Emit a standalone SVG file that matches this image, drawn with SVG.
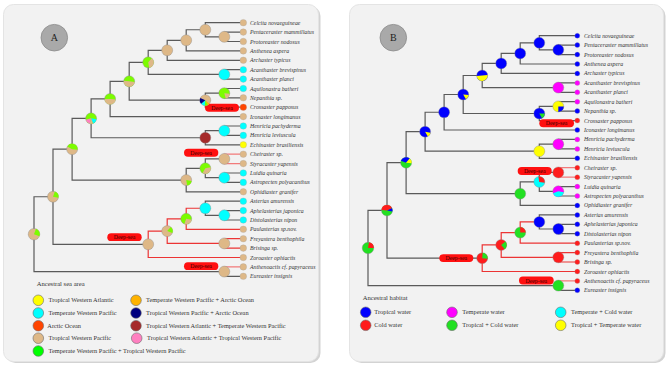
<svg xmlns="http://www.w3.org/2000/svg" width="669" height="368" viewBox="0 0 669 368">
<style>
.shadow{fill:#d3d3d3}
.panel{fill:#f2f2f2;stroke:#e4e4e4;stroke-width:1}
.br{fill:none;stroke:#5a5a5a;stroke-width:1.2}
.rd{fill:none;stroke:#ec3434;stroke-width:1.2}
.rl{fill:none;stroke:#f27a7a;stroke-width:1.2}
.tl{font-family:"Liberation Serif",serif;font-style:italic;font-size:5.8px;fill:#333}
.lt{font-family:"Liberation Serif",serif;font-size:6.35px;fill:#333}
.hd{font-family:"Liberation Serif",serif;font-size:6.6px;fill:#333}
.ds rect{fill:#ff1010}
.ds text{font-family:"Liberation Serif",serif;font-size:5.8px;fill:#3a0000;text-anchor:middle}
.nd circle{stroke:#8c8c8c;stroke-width:0.4}
.tp circle{stroke:#a0a0a0;stroke-width:0.3}
.leg circle{stroke:#6a6a6a;stroke-width:0.6}
.badge circle{fill:#a9a9a9;stroke:#8a8a8a;stroke-width:0.8}
.badge text{font-family:"Liberation Serif",serif;font-size:10px;fill:#222;text-anchor:middle}
.tan{fill:#deb887}.gr{fill:#7cfc00}.cy{fill:#00ffff}.ye{fill:#ffff00}.oa{fill:#ff4500}
.or{fill:#ffb300}.nv{fill:#000080}.bn{fill:#a52a2a}.pk{fill:#ff80c0}.g0{fill:#00ff00}
.bl{fill:#0000ff}.re{fill:#ff1c1c}.mg{fill:#ff00ff}.gg{fill:#22e022}
</style>
<rect width="669" height="368" fill="#ffffff"/>
<!-- panels -->
<rect class="shadow" x="5.5" y="6" width="315" height="357" rx="10"/>
<rect class="panel" x="3.5" y="4.5" width="315" height="357" rx="10"/>
<rect class="shadow" x="351.5" y="6" width="314" height="357" rx="10"/>
<rect class="panel" x="349.5" y="4.5" width="314" height="357" rx="10"/>
<g class="badge" id="badge-a"><circle cx="54.3" cy="37.7" r="13.3"/><text x="54.3" y="41.3">A</text></g>
<g class="badge" id="badge-b"><circle cx="393.3" cy="37.7" r="13.3"/><text x="393.3" y="41.3">B</text></g>

<!-- connectors -->
<g id="connectors">
<g id="connectors-a">
<path class="br" d="M243.3,32.1H224.3V41.5H243.3"/>
<path class="br" d="M243.3,22.7H205.3V36.8H224.3"/>
<path class="br" d="M205.3,29.75H186.2V50.9H243.3"/>
<path class="br" d="M186.2,40.3H167.2V60.3H243.3"/>
<path class="br" d="M243.3,69.7H224.3V79.1H243.3"/>
<path class="br" d="M167.2,50.3H148.2V74.4H224.3"/>
<path class="br" d="M243.3,88.5H224.3V97.8H243.3"/>
<path class="br" d="M224.3,93.15H205.3V107.2H243.3"/>
<path class="br" d="M148.2,62.35H129.2V100.2H205.3"/>
<path class="br" d="M129.2,81.3H110.1V116.6H243.3"/>
<path class="br" d="M243.3,126H224.3V135.4H243.3"/>
<path class="br" d="M224.3,130.7H205.3V144.8H243.3"/>
<path class="br" d="M110.1,98.95H91.1V137.75H205.3"/>
<path class="rl" d="M243.3,154.2H224.3V163.6H243.3"/>
<path class="br" d="M243.3,173H224.3V182.4H243.3"/>
<path class="br" d="M224.3,158.9H205.3V177.7H224.3"/>
<path class="br" d="M205.3,168.3H186.2V191.8H243.3"/>
<path class="br" d="M91.1,118.35H72.1V180.05H186.2"/>
<path class="br" d="M243.3,210.6H224.3V220H243.3"/>
<path class="br" d="M243.3,201.2H205.3V215.3H224.3"/>
<path class="rd" d="M205.3,208.25H186.2V229.3H243.3"/>
<path class="rd" d="M243.3,238.7H224.3V248.1H243.3"/>
<path class="rd" d="M186.2,218.8H167.2V243.4H224.3"/>
<path class="rd" d="M167.2,231.1H148.2V257.5H243.3"/>
<path class="br" d="M72.1,149.2H53V244.3H148.2"/>
<path class="rl" d="M243.3,266.9H224.3V271.6"/>
<path class="br" d="M224.3,271.6V276.3H243.3"/>
<path class="br" d="M53,196.75H34V271.6H224.3"/>
</g>
<g id="connectors-b">
<path class="br" d="M577.3,45.1H558.3V54.6H577.3"/>
<path class="br" d="M577.3,35.7H539.3V49.85H558.3"/>
<path class="br" d="M539.3,42.8H520.2V64H577.3"/>
<path class="br" d="M520.2,53.4H501.2V73.4H577.3"/>
<path class="br" d="M577.3,82.9H558.3V92.3H577.3"/>
<path class="br" d="M501.2,63.4H482.2V87.6H558.3"/>
<path class="br" d="M577.3,101.7H558.3V111.1H577.3"/>
<path class="br" d="M558.3,106.4H539.3V120.6H577.3"/>
<path class="br" d="M482.2,75.5H463.2V113.5H539.3"/>
<path class="br" d="M463.2,94.5H444.1V130H577.3"/>
<path class="br" d="M577.3,139.4H558.3V148.9H577.3"/>
<path class="br" d="M558.3,144.15H539.3V158.3H577.3"/>
<path class="br" d="M444.1,112.25H425.1V151.2H539.3"/>
<path class="rl" d="M577.3,167.7H558.3V177.2H577.3"/>
<path class="br" d="M577.3,186.6H558.3V196H577.3"/>
<path class="br" d="M558.3,172.45H539.3V191.3H558.3"/>
<path class="br" d="M539.3,181.9H520.2V205.4H577.3"/>
<path class="br" d="M425.1,131.7H406.1V193.65H520.2"/>
<path class="br" d="M577.3,224.3H558.3V233.7H577.3"/>
<path class="br" d="M577.3,214.9H539.3V229H558.3"/>
<path class="rd" d="M539.3,221.95H520.2V243.2H577.3"/>
<path class="rd" d="M577.3,252.6H558.3V262H577.3"/>
<path class="rd" d="M520.2,232.6H501.2V257.3H558.3"/>
<path class="rd" d="M501.2,244.95H482.2V271.5H577.3"/>
<path class="br" d="M406.1,162.7H387V258.2H482.2"/>
<path class="rl" d="M577.3,280.9H558.3V285.6"/>
<path class="br" d="M558.3,285.6V290.3H577.3"/>
<path class="br" d="M387,210.45H368V285.6H558.3"/>
</g>
</g>

<!-- deep-sea labels -->
<g id="deep-sea-labels" class="ds">
<g><rect x="205" y="103.7" width="34" height="8" rx="4"/><text x="222" y="109.7">Deep-sea</text></g>
<g><rect x="184" y="148.7" width="34.3" height="8" rx="4"/><text x="201.1" y="154.7">Deep-sea</text></g>
<g><rect x="107.3" y="233.3" width="34.4" height="7.8" rx="3.9"/><text x="124.5" y="239.2">Deep-sea</text></g>
<g><rect x="184" y="262.3" width="34.3" height="7.8" rx="3.9"/><text x="201.1" y="268.2">Deep-sea</text></g>
<g><rect x="539.3" y="119.3" width="34.7" height="8" rx="4"/><text x="556.6" y="125.3">Deep-sea</text></g>
<g><rect x="517.7" y="167" width="34" height="8" rx="4"/><text x="534.7" y="173">Deep-sea</text></g>
<g><rect x="439.3" y="254.2" width="34" height="7.8" rx="3.9"/><text x="456.3" y="260.1">Deep-sea</text></g>
<g><rect x="519" y="276.6" width="34.7" height="7.8" rx="3.9"/><text x="536.3" y="282.5">Deep-sea</text></g>
</g>

<!-- panel A internal nodes -->
<g id="a-nodes" class="nd">
<g id="a-n1" transform="translate(224.3,36.8)"><circle r="5.5" class="tan"/></g>
<g id="a-n2" transform="translate(205.3,29.75)"><circle r="5.5" class="tan"/></g>
<g id="a-n3" transform="translate(186.2,40.3)"><circle r="5.5" class="tan"/></g>
<g id="a-n4" transform="translate(167.2,50.3)"><circle r="5.5" class="tan"/></g>
<g id="a-n5" transform="translate(224.3,74.4)"><circle r="5.5" class="cy"/></g>
<g id="a-n6" transform="translate(148.2,62.35)"><circle r="5.5" class="gr"/><path class="tan" d="M0,0L3.535,-4.213A5.5,5.5 0 0 1 0.955,5.416Z"/></g>
<g id="a-n7" transform="translate(224.3,93.15)"><circle r="5.5" class="gr"/><path class="tan" d="M0,0L5.479,0.479A5.5,5.5 0 0 1 1.424,5.312Z"/></g>
<g id="a-n8" transform="translate(205.3,100.2)"><circle r="5.5" class="tan"/><path class="or" d="M0,0L4.213,3.535A5.5,5.5 0 0 1 2.75,4.763Z"/><path class="gr" d="M0,0L2.75,4.763A5.5,5.5 0 0 1 -0.479,5.479Z"/><path class="cy" d="M0,0L-0.479,5.479A5.5,5.5 0 0 1 -4.213,3.535Z"/><path class="nv" d="M0,0L-4.213,3.535A5.5,5.5 0 0 1 -4.985,-2.324Z"/></g>
<g id="a-n9" transform="translate(129.2,81.3)"><circle r="5.5" class="gr"/><path class="tan" d="M0,0L5.47,0.575A5.5,5.5 0 0 1 -5.479,-0.479Z"/></g>
<g id="a-n10" transform="translate(110.1,98.95)"><circle r="5.5" class="gr"/><path class="tan" d="M0,0L5.479,0.479A5.5,5.5 0 0 1 -5.5,0Z"/></g>
<g id="a-n11" transform="translate(224.3,130.7)"><circle r="5.5" class="cy"/></g>
<g id="a-n12" transform="translate(205.3,137.75)"><circle r="5.5" class="bn"/></g>
<g id="a-n13" transform="translate(91.1,118.35)"><circle r="5.5" class="gr"/><path class="cy" d="M0,0L5.416,0.955A5.5,5.5 0 0 1 1.881,5.168Z"/><path class="tan" d="M0,0L1.881,5.168A5.5,5.5 0 0 1 -1.424,5.312Z"/><path class="pk" d="M0,0L-1.424,5.312A5.5,5.5 0 0 1 -5.312,1.424Z"/></g>
<g id="a-n14" transform="translate(224.3,158.9)"><circle r="5.5" class="tan"/></g>
<g id="a-n15" transform="translate(224.3,177.7)"><circle r="5.5" class="cy"/></g>
<g id="a-n16" transform="translate(205.3,168.3)"><circle r="5.5" class="gr"/><path class="tan" d="M0,0L5.416,-0.955A5.5,5.5 0 0 1 -2.75,4.763Z"/></g>
<g id="a-n17" transform="translate(186.2,180.05)"><circle r="5.5" class="tan"/><path class="gr" d="M0,0L5.416,0.955A5.5,5.5 0 0 1 0.955,5.416Z"/></g>
<g id="a-n18" transform="translate(72.1,149.2)"><circle r="5.5" class="tan"/><path class="gr" d="M0,0L-4.763,-2.75A5.5,5.5 0 0 1 5.479,0.479Z"/></g>
<g id="a-n19" transform="translate(224.3,215.3)"><circle r="5.5" class="cy"/></g>
<g id="a-n20" transform="translate(205.3,208.25)"><circle r="5.5" class="cy"/></g>
<g id="a-n21" transform="translate(186.2,218.8)"><circle r="5.5" class="gr"/><path class="tan" d="M0,0L5.416,0.955A5.5,5.5 0 0 1 -1.881,5.168Z"/></g>
<g id="a-n22" transform="translate(224.3,243.4)"><circle r="5.5" class="tan"/></g>
<g id="a-n23" transform="translate(167.2,231.1)"><circle r="5.5" class="tan"/><path class="gr" d="M0,0L3.535,-4.213A5.5,5.5 0 0 1 5.168,1.881Z"/></g>
<g id="a-n24" transform="translate(148.2,244.3)"><circle r="5.5" class="tan"/></g>
<g id="a-n25" transform="translate(53,196.75)"><circle r="5.5" class="tan"/><path class="gr" d="M0,0L1.881,-5.168A5.5,5.5 0 0 1 5.416,0.955Z"/></g>
<g id="a-n26" transform="translate(224.3,271.6)"><circle r="5.5" class="tan"/></g>
<g id="a-root" transform="translate(34,234.2)"><circle r="5.8" class="tan"/><path class="gr" d="M0,0L1.984,-5.45A5.8,5.8 0 0 1 5.45,1.984Z"/></g>
</g>

<!-- panel A tips -->
<g id="a-tips" class="tp">
<g id="a-t0"><circle cx="243.3" cy="22.7" r="3.3" class="tan"/><text class="tl" x="250" y="24.7">Celcita novaeguineae</text></g>
<g id="a-t1"><circle cx="243.3" cy="32.1" r="3.3" class="tan"/><text class="tl" x="250" y="34.1">Pentaceraster mammillatus</text></g>
<g id="a-t2"><circle cx="243.3" cy="41.5" r="3.3" class="tan"/><text class="tl" x="250" y="43.5">Protoreaster nodosus</text></g>
<g id="a-t3"><circle cx="243.3" cy="50.9" r="3.3" class="tan"/><text class="tl" x="250" y="52.9">Anthenea aspera</text></g>
<g id="a-t4"><circle cx="243.3" cy="60.3" r="3.3" class="tan"/><text class="tl" x="250" y="62.3">Archaster typicus</text></g>
<g id="a-t5"><circle cx="243.3" cy="69.7" r="3.3" class="cy"/><text class="tl" x="250" y="71.7">Acanthaster brevispinus</text></g>
<g id="a-t6"><circle cx="243.3" cy="79.1" r="3.3" class="cy"/><text class="tl" x="250" y="81.1">Acanthaster planci</text></g>
<g id="a-t7"><circle cx="243.3" cy="88.5" r="3.3" class="cy"/><text class="tl" x="250" y="90.5">Aquilonastra batheri</text></g>
<g id="a-t8"><circle cx="243.3" cy="97.8" r="3.3" class="tan"/><text class="tl" x="250" y="99.8">Nepanthia sp.</text></g>
<g id="a-t9"><circle cx="243.3" cy="107.2" r="3.3" class="oa"/><text class="tl" x="250" y="109.2">Crossaster papposus</text></g>
<g id="a-t10"><circle cx="243.3" cy="116.6" r="3.3" class="tan"/><text class="tl" x="250" y="118.6">Iconaster longimanus</text></g>
<g id="a-t11"><circle cx="243.3" cy="126" r="3.3" class="cy"/><text class="tl" x="250" y="128">Henricia pachyderma</text></g>
<g id="a-t12"><circle cx="243.3" cy="135.4" r="3.3" class="cy"/><text class="tl" x="250" y="137.4">Henricia leviuscula</text></g>
<g id="a-t13"><circle cx="243.3" cy="144.8" r="3.3" class="ye"/><text class="tl" x="250" y="146.8">Echinaster brasiliensis</text></g>
<g id="a-t14"><circle cx="243.3" cy="154.2" r="3.3" class="tan"/><text class="tl" x="250" y="156.2">Cheiraster sp.</text></g>
<g id="a-t15"><circle cx="243.3" cy="163.6" r="3.3" class="tan"/><text class="tl" x="250" y="165.6">Styracaster yapensis</text></g>
<g id="a-t16"><circle cx="243.3" cy="173" r="3.3" class="cy"/><text class="tl" x="250" y="175">Luidia quinaria</text></g>
<g id="a-t17"><circle cx="243.3" cy="182.4" r="3.3" class="cy"/><text class="tl" x="250" y="184.4">Astropecten polyacanthus</text></g>
<g id="a-t18"><circle cx="243.3" cy="191.8" r="3.3" class="tan"/><text class="tl" x="250" y="193.8">Ophidiaster granifer</text></g>
<g id="a-t19"><circle cx="243.3" cy="201.2" r="3.3" class="cy"/><text class="tl" x="250" y="203.2">Asterias amurensis</text></g>
<g id="a-t20"><circle cx="243.3" cy="210.6" r="3.3" class="cy"/><text class="tl" x="250" y="212.6">Aphelasterias japonica</text></g>
<g id="a-t21"><circle cx="243.3" cy="220" r="3.3" class="cy"/><text class="tl" x="250" y="222">Distolasterias nipon</text></g>
<g id="a-t22"><circle cx="243.3" cy="229.3" r="3.3" class="tan"/><text class="tl" x="250" y="231.3">Paulasterias sp.nov.</text></g>
<g id="a-t23"><circle cx="243.3" cy="238.7" r="3.3" class="tan"/><text class="tl" x="250" y="240.7">Freyastera benthophila</text></g>
<g id="a-t24"><circle cx="243.3" cy="248.1" r="3.3" class="tan"/><text class="tl" x="250" y="250.1">Brisinga sp.</text></g>
<g id="a-t25"><circle cx="243.3" cy="257.5" r="3.3" class="tan"/><text class="tl" x="250" y="259.5">Zoroaster ophiactis</text></g>
<g id="a-t26"><circle cx="243.3" cy="266.9" r="3.3" class="tan"/><text class="tl" x="250" y="268.9">Anthenoactis cf. papyraceus</text></g>
<g id="a-t27"><circle cx="243.3" cy="276.3" r="3.3" class="tan"/><text class="tl" x="250" y="278.3">Eureaster insignis</text></g>
</g>

<!-- panel B internal nodes -->
<g id="b-nodes" class="nd">
<g id="b-n1" transform="translate(558.3,49.85)"><circle r="5.5" class="bl"/></g>
<g id="b-n2" transform="translate(539.3,42.8)"><circle r="5.5" class="bl"/></g>
<g id="b-n3" transform="translate(520.2,53.4)"><circle r="5.5" class="bl"/></g>
<g id="b-n4" transform="translate(501.2,63.4)"><circle r="5.5" class="bl"/></g>
<g id="b-n5" transform="translate(558.3,87.6)"><circle r="5.5" class="mg"/></g>
<g id="b-n6" transform="translate(482.2,75.5)"><circle r="5.5" class="bl"/><path class="ye" d="M0,0L5.487,-0.384A5.5,5.5 0 0 1 -5.479,0.479Z"/></g>
<g id="b-n7" transform="translate(558.3,106.4)"><circle r="5.5" class="ye"/><path class="bl" d="M0,0L5.5,0A5.5,5.5 0 0 1 0,5.5Z"/></g>
<g id="b-n8" transform="translate(539.3,113.5)"><circle r="5.5" class="bl"/><path class="gg" d="M0,0L5.5,0A5.5,5.5 0 0 1 2.75,4.763Z"/></g>
<g id="b-n9" transform="translate(463.2,94.5)"><circle r="5.5" class="bl"/><path class="ye" d="M0,0L5.479,0.479A5.5,5.5 0 0 1 2.75,4.763Z"/></g>
<g id="b-n10" transform="translate(444.1,112.25)"><circle r="5.5" class="bl"/></g>
<g id="b-n11" transform="translate(558.3,144.15)"><circle r="5.5" class="mg"/></g>
<g id="b-n12" transform="translate(539.3,151.2)"><circle r="5.5" class="ye"/></g>
<g id="b-n13" transform="translate(425.1,131.7)"><circle r="5.5" class="bl"/><path class="ye" d="M0,0L5.416,0.955A5.5,5.5 0 0 1 2.75,4.763Z"/></g>
<g id="b-n14" transform="translate(558.3,172.45)"><circle r="5.5" class="re"/></g>
<g id="b-n15" transform="translate(558.3,191.3)"><circle r="5.5" class="mg"/><path class="cy" d="M0,0L5.416,0.955A5.5,5.5 0 0 1 -5.168,1.881Z"/></g>
<g id="b-n16" transform="translate(539.3,181.9)"><circle r="5.5" class="cy"/><path class="re" d="M0,0L-0.955,-5.416A5.5,5.5 0 0 1 5.416,0.955Z"/></g>
<g id="b-n17" transform="translate(520.2,193.65)"><circle r="5.5" class="gg"/></g>
<g id="b-n18" transform="translate(406.1,162.7)"><circle r="5.5" class="gg"/><path class="bl" d="M0,0L-5.168,-1.881A5.5,5.5 0 0 1 3.535,-4.213Z"/><path class="ye" d="M0,0L3.535,-4.213A5.5,5.5 0 0 1 5.479,0.479Z"/></g>
<g id="b-n19" transform="translate(558.3,229)"><circle r="5.5" class="bl"/></g>
<g id="b-n20" transform="translate(539.3,221.95)"><circle r="5.5" class="bl"/></g>
<g id="b-n21" transform="translate(520.2,232.6)"><circle r="5.5" class="gg"/><path class="re" d="M0,0L0,-5.5A5.5,5.5 0 0 1 5.5,0Z"/></g>
<g id="b-n22" transform="translate(558.3,257.3)"><circle r="5.5" class="re"/></g>
<g id="b-n23" transform="translate(501.2,244.95)"><circle r="5.5" class="re"/><path class="gg" d="M0,0L4.213,-3.535A5.5,5.5 0 0 1 3.535,4.213Z"/></g>
<g id="b-n24" transform="translate(482.2,258.2)"><circle r="5.5" class="re"/><path class="gg" d="M0,0L0.479,-5.479A5.5,5.5 0 0 1 5.479,0.479Z"/></g>
<g id="b-n25" transform="translate(387,210.45)"><circle r="5.5" class="gg"/><path class="re" d="M0,0L-5.479,-0.479A5.5,5.5 0 0 1 4.985,-2.324Z"/><path class="bl" d="M0,0L4.985,-2.324A5.5,5.5 0 0 1 5.416,0.955Z"/></g>
<g id="b-n26" transform="translate(558.3,285.6)"><circle r="5.5" class="gg"/></g>
<g id="b-root" transform="translate(368,248)"><circle r="5.8" class="gg"/><path class="re" d="M0,0L1.007,-5.712A5.8,5.8 0 0 1 5.8,0Z"/></g>
</g>

<!-- panel B tips -->
<g id="b-tips" class="tp">
<g id="b-t0"><circle cx="577.3" cy="35.7" r="2.5" class="bl"/><text class="tl" x="584" y="37.7">Celcita novaeguineae</text></g>
<g id="b-t1"><circle cx="577.3" cy="45.1" r="2.5" class="bl"/><text class="tl" x="584" y="47.1">Pentaceraster mammillatus</text></g>
<g id="b-t2"><circle cx="577.3" cy="54.6" r="2.5" class="bl"/><text class="tl" x="584" y="56.6">Protoreaster nodosus</text></g>
<g id="b-t3"><circle cx="577.3" cy="64" r="2.5" class="bl"/><text class="tl" x="584" y="66">Anthenea aspera</text></g>
<g id="b-t4"><circle cx="577.3" cy="73.4" r="2.5" class="bl"/><text class="tl" x="584" y="75.4">Archaster typicus</text></g>
<g id="b-t5"><circle cx="577.3" cy="82.9" r="2.5" class="mg"/><text class="tl" x="584" y="84.9">Acanthaster brevispinus</text></g>
<g id="b-t6"><circle cx="577.3" cy="92.3" r="2.5" class="mg"/><text class="tl" x="584" y="94.3">Acanthaster planci</text></g>
<g id="b-t7"><circle cx="577.3" cy="101.7" r="2.5" class="mg"/><text class="tl" x="584" y="103.7">Aquilonastra batheri</text></g>
<g id="b-t8"><circle cx="577.3" cy="111.1" r="2.5" class="bl"/><text class="tl" x="584" y="113.1">Nepanthia sp.</text></g>
<g id="b-t9"><circle cx="577.3" cy="120.6" r="2.5" class="re"/><text class="tl" x="584" y="122.6">Crossaster papposus</text></g>
<g id="b-t10"><circle cx="577.3" cy="130" r="2.5" class="bl"/><text class="tl" x="584" y="132">Iconaster longimanus</text></g>
<g id="b-t11"><circle cx="577.3" cy="139.4" r="2.5" class="mg"/><text class="tl" x="584" y="141.4">Henricia pachyderma</text></g>
<g id="b-t12"><circle cx="577.3" cy="148.9" r="2.5" class="mg"/><text class="tl" x="584" y="150.9">Henricia leviuscula</text></g>
<g id="b-t13"><circle cx="577.3" cy="158.3" r="2.5" class="bl"/><text class="tl" x="584" y="160.3">Echinaster brasiliensis</text></g>
<g id="b-t14"><circle cx="577.3" cy="167.7" r="2.5" class="re"/><text class="tl" x="584" y="169.7">Cheiraster sp.</text></g>
<g id="b-t15"><circle cx="577.3" cy="177.2" r="2.5" class="re"/><text class="tl" x="584" y="179.2">Styracaster yapensis</text></g>
<g id="b-t16"><circle cx="577.3" cy="186.6" r="2.5" class="mg"/><text class="tl" x="584" y="188.6">Luidia quinaria</text></g>
<g id="b-t17"><circle cx="577.3" cy="196" r="2.5" class="mg"/><text class="tl" x="584" y="198">Astropecten polyacanthus</text></g>
<g id="b-t18"><circle cx="577.3" cy="205.4" r="2.5" class="bl"/><text class="tl" x="584" y="207.4">Ophidiaster granifer</text></g>
<g id="b-t19"><circle cx="577.3" cy="214.9" r="2.5" class="bl"/><text class="tl" x="584" y="216.9">Asterias amurensis</text></g>
<g id="b-t20"><circle cx="577.3" cy="224.3" r="2.5" class="bl"/><text class="tl" x="584" y="226.3">Aphelasterias japonica</text></g>
<g id="b-t21"><circle cx="577.3" cy="233.7" r="2.5" class="bl"/><text class="tl" x="584" y="235.7">Distolasterias nipon</text></g>
<g id="b-t22"><circle cx="577.3" cy="243.2" r="2.5" class="re"/><text class="tl" x="584" y="245.2">Paulasterias sp.nov.</text></g>
<g id="b-t23"><circle cx="577.3" cy="252.6" r="2.5" class="re"/><text class="tl" x="584" y="254.6">Freyastera benthophila</text></g>
<g id="b-t24"><circle cx="577.3" cy="262" r="2.5" class="re"/><text class="tl" x="584" y="264">Brisinga sp.</text></g>
<g id="b-t25"><circle cx="577.3" cy="271.5" r="2.5" class="re"/><text class="tl" x="584" y="273.5">Zoroaster ophiactis</text></g>
<g id="b-t26"><circle cx="577.3" cy="280.9" r="2.5" class="re"/><text class="tl" x="584" y="282.9">Anthenoactis cf. papyraceus</text></g>
<g id="b-t27"><circle cx="577.3" cy="290.3" r="2.5" class="bl"/><text class="tl" x="584" y="292.3">Eureaster insignis</text></g>
</g>

<!-- legend A -->
<g id="legend-a" class="leg">
<text class="hd" x="36.7" y="286.3">Ancestral sea area</text>
<circle cx="38.3" cy="300.3" r="5.3" class="ye"/><text class="lt" x="48.5" y="302.4">Tropical Western Atlantic</text>
<circle cx="38.3" cy="313" r="5.3" class="cy"/><text class="lt" x="48.5" y="315.1">Temperate Western Pacific</text>
<circle cx="38.3" cy="325.7" r="5.3" class="oa"/><text class="lt" x="47.3" y="327.8">Arctic Ocean</text>
<circle cx="38.3" cy="338.2" r="5.3" class="tan"/><text class="lt" x="48.5" y="340.3">Tropical Western Pacific</text>
<circle cx="38.3" cy="351" r="5.3" class="g0"/><text class="lt" x="48.5" y="353.1">Temperate Western Pacific + Tropical Western Pacific</text>
<circle cx="136" cy="300.3" r="5.3" class="or"/><text class="lt" x="146" y="302.4">Temperate Western Pacific + Arctic Ocean</text>
<circle cx="136" cy="313" r="5.3" class="nv"/><text class="lt" x="146" y="315.1">Tropical Western Pacific + Arctic Ocean</text>
<circle cx="136" cy="325.7" r="5.3" class="bn"/><text class="lt" x="146" y="327.8">Tropical Western Atlantic + Temperate Western Pacific</text>
<circle cx="136.7" cy="338.2" r="5.3" class="pk"/><text class="lt" x="147" y="340.3">Tropical Western Atlantic + Tropical Western Pacific</text>
</g>

<!-- legend B -->
<g id="legend-b" class="leg">
<text class="hd" x="362.7" y="299.8">Ancestral habitat</text>
<circle cx="365.7" cy="312.3" r="5.3" class="bl"/><text class="lt" x="374.3" y="314.4">Tropical water</text>
<circle cx="365.7" cy="325.3" r="5.3" class="re"/><text class="lt" x="374.3" y="327.4">Cold water</text>
<circle cx="452" cy="312.3" r="5.3" class="mg"/><text class="lt" x="462.3" y="314.4">Temperate water</text>
<circle cx="452" cy="325.3" r="5.3" class="gg"/><text class="lt" x="462.3" y="327.4">Tropical + Cold water</text>
<circle cx="560.7" cy="312.3" r="5.3" class="cy"/><text class="lt" x="571" y="314.4">Temperate + Cold water</text>
<circle cx="560.7" cy="325.3" r="5.3" class="ye"/><text class="lt" x="571" y="327.4">Tropical + Temperate water</text>
</g>
</svg>
